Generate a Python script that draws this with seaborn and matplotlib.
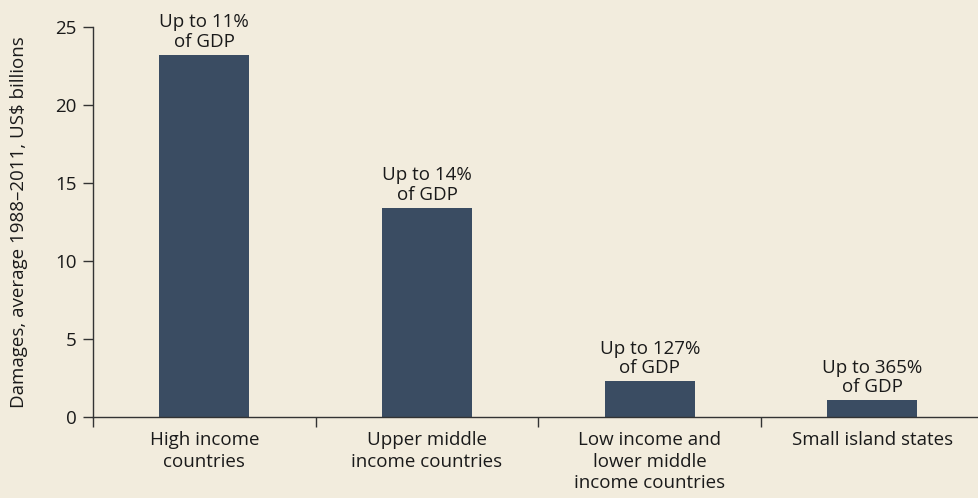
import pandas as pd
import seaborn as sns
import matplotlib.pyplot as plt

# Data
categories = [
    "High income\ncountries",
    "Upper middle\nincome countries",
    "Low income and\nlower middle\nincome countries",
    "Small island states",
]
damages = [23.2, 13.4, 2.3, 1.1]
gdp_labels = [
    "Up to 11%\nof GDP",
    "Up to 14%\nof GDP",
    "Up to 127%\nof GDP",
    "Up to 365%\nof GDP",
]

bg = "#f2ecdd"
bar_color = "#3a4c62"
ink = "#1a1a1a"
fs = 13.5

sns.set_style("ticks", {"axes.facecolor": bg, "figure.facecolor": bg})
plt.rcParams["font.family"] = ["Open Sans", "DejaVu Sans"]

df = pd.DataFrame({"category": categories, "damages": damages})

fig = plt.figure(figsize=(9.79, 4.98), dpi=100)
ax = fig.add_axes([0.095, 0.162, 0.9098, 0.784])

sns.barplot(data=df, x="category", y="damages", color=bar_color,
            saturation=1, width=0.404, linewidth=0, ax=ax)

# labels above bars
for i, (v, lab) in enumerate(zip(damages, gdp_labels)):
    ax.annotate(lab, (i, v), xytext=(0, 3), textcoords="offset points",
                ha="center", va="bottom", fontsize=fs, color=ink,
                linespacing=1.1)

ax.set_xlim(-0.5, 3.5)
ax.set_ylim(0, 25)
ax.set_yticks([0, 5, 10, 15, 20, 25])
ax.set_xlabel("")
ax.set_ylabel("Damages, average 1988\u20132011, US$ billions", fontsize=fs,
              color=ink, labelpad=19)

# tick marks between the categories, none under labels
ax.set_xticks([-0.5, 0.5, 1.5, 2.5, 3.5], minor=True)
ax.tick_params(axis="x", which="major", length=0, pad=10, labelsize=fs,
               labelcolor=ink)
ax.tick_params(axis="x", which="minor", length=7, width=1, color="#333333",
               direction="out")
ax.tick_params(axis="y", length=7, width=1, color="#333333", labelsize=fs,
               labelcolor=ink, pad=5)
for lab in ax.get_xticklabels():
    lab.set_linespacing(1.25)

for s in ["top", "right"]:
    ax.spines[s].set_visible(False)
for s in ["left", "bottom"]:
    ax.spines[s].set_color("#333333")
    ax.spines[s].set_linewidth(1)

fig.savefig("out.png", dpi=100, facecolor=bg)
